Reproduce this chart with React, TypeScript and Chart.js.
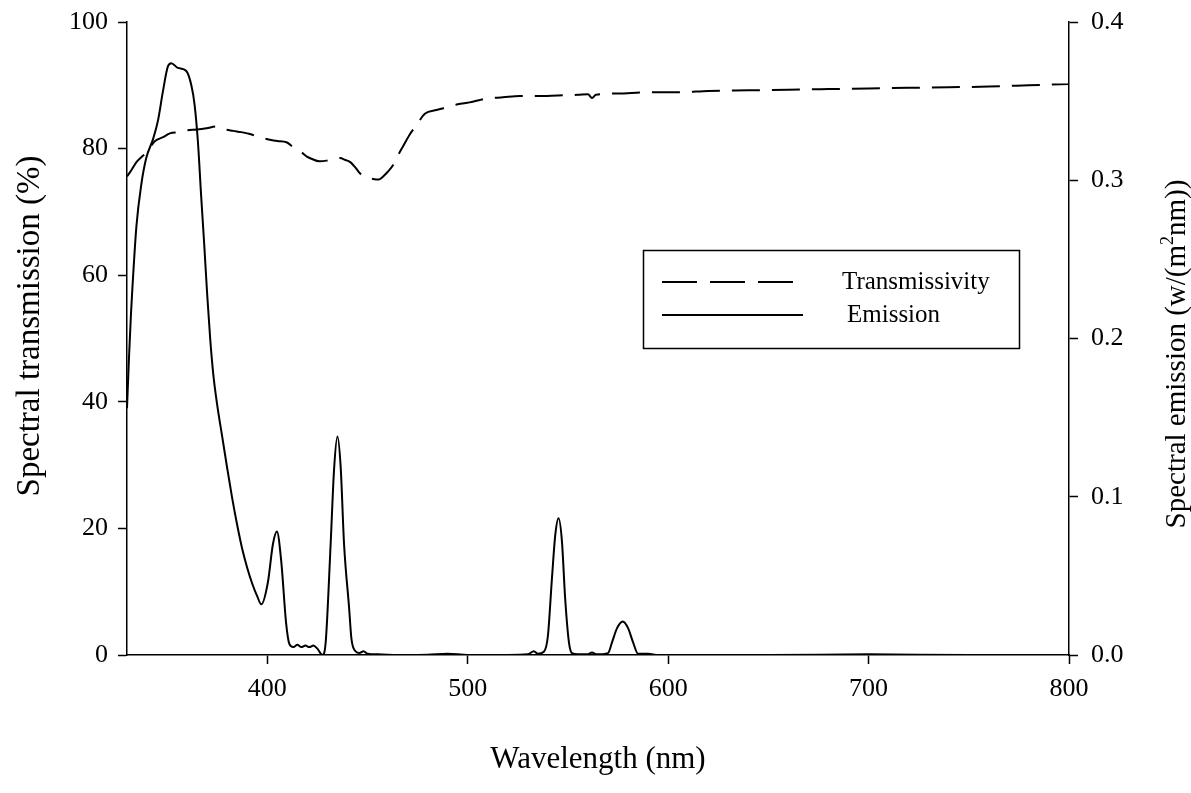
import React, { useEffect, useRef } from 'react';
import { Chart, registerables } from 'chart.js';

Chart.register(...registerables);

// ---- Data ----
const emissionNm = [
  330, 331, 332, 332.7, 334.7, 337.1, 339.6, 343, 345.5, 347.9, 350.4, 352.1, 355.4, 359.6, 362.1, 363.7,
  365.4, 367, 368.5, 370, 371.5, 373, 375, 377.5, 380, 382.5, 385, 387.5, 390, 392.5, 395, 397, 400.3, 402.8, 404.8, 406.9,
  409.4, 411, 413, 415, 417, 419, 421, 423, 425, 427.5, 429.1, 431.6, 433.3, 435, 436.6, 438.3, 440.8,
  442, 444, 446, 448, 450, 455, 460, 470, 480, 490, 500, 520, 530, 533, 535, 538, 540, 542, 543.7,
  545.3, 547, 548.6, 550.5, 552, 555, 560, 562, 564, 570, 572, 574.5, 577.4, 580, 582.5, 585, 590,
  595, 650, 700, 750, 800,
];
const emissionVal = [
  0.156, 0.188, 0.216, 0.232, 0.271, 0.297, 0.314, 0.326, 0.338, 0.356, 0.372, 0.374, 0.371, 0.369, 0.36, 0.348,
  0.324, 0.29, 0.26, 0.228, 0.2, 0.178, 0.158, 0.138, 0.118, 0.099, 0.082, 0.067, 0.055, 0.045, 0.037, 0.032, 0.046, 0.07, 0.078, 0.06,
  0.02, 0.007, 0.005, 0.0064, 0.005, 0.006, 0.005, 0.006, 0.004, 0.0, 0.0076, 0.07, 0.117, 0.138, 0.119, 0.07, 0.03,
  0.01, 0.0024, 0.0012, 0.0024, 0.0008, 0.0004, 0.0002, 0.0, 0.0002, 0.0008, 0.0, 0.0, 0.0004, 0.0024, 0.0008, 0.002, 0.012, 0.048, 0.076,
  0.0864, 0.072, 0.036, 0.008, 0.0012, 0.0004, 0.0004, 0.0016, 0.0004, 0.0012, 0.008, 0.017, 0.0212, 0.017, 0.008, 0.0008, 0.0008,
  0.0, 0.0, 0.0004, 0.0, 0.0,
];

const transNm = [
  330, 332, 334.8, 337, 339.8, 344, 348, 351.4, 356, 359.8, 365, 369.7, 374.7, 378, 383, 387, 391.3, 396,
  401.3, 405, 409.6, 413, 417.1, 420, 422, 426, 429.6, 433, 436.2, 439, 441.2, 444, 446.2, 449, 452.8,
  455.5, 457.8, 460, 462.8, 465, 467.8, 471, 474.4, 478.6, 484.4, 490.9, 495, 500.9, 505, 509.3, 517.6,
  526, 535, 545, 555, 560, 562, 564, 575, 590, 605, 620, 640, 660, 680, 700, 720, 740, 760, 780, 800,
];
const transVal = [
  75.6, 76.5, 77.9, 78.6, 79.4, 81.2, 81.8, 82.4, 82.6, 82.9, 83.0, 83.2, 83.5, 83.1, 82.8, 82.6, 82.3, 81.8,
  81.4, 81.2, 81.0, 80.2, 79.4, 78.7, 78.4, 78.0, 78.1, 78.4, 78.5, 78.2, 77.9, 77.0, 76.1, 75.5, 75.2,
  75.1, 75.6, 76.3, 77.4, 78.8, 80.4, 82.2, 83.7, 85.5, 86.1, 86.6, 87.0, 87.3, 87.6, 87.9, 88.1,
  88.3, 88.3, 88.4, 88.5, 88.6, 88.0, 88.5, 88.7, 88.9, 88.9, 89.1, 89.2, 89.3, 89.4, 89.5, 89.6, 89.7, 89.8, 90.0, 90.2,
];

const xTicks = [400, 500, 600, 700, 800];
const leftTicks = [0, 20, 40, 60, 80, 100];
const rightTicks = [0, 0.1, 0.2, 0.3, 0.4];
const seriesLabels = ['Transmissivity', 'Emission'];
const xTitle = 'Wavelength (nm)';
const leftTitle = 'Spectral transmission (%)';
const rightTitleParts = ['Spectral emission (w/(m', '2', 'nm))'];

const FONT = "'Liberation Serif', 'Times New Roman', serif";

const overlayPlugin = {
  id: 'overlay',
  afterDraw(chart: any) {
    const ctx = chart.ctx as CanvasRenderingContext2D;
    ctx.save();
    // Legend box
    ctx.strokeStyle = '#000';
    ctx.lineWidth = 1.5;
    ctx.setLineDash([]);
    ctx.strokeRect(643.5, 250.5, 376, 98);
    // Dashed sample
    ctx.lineWidth = 2;
    ctx.setLineDash([35, 13]);
    ctx.beginPath();
    ctx.moveTo(662, 282);
    ctx.lineTo(793, 282);
    ctx.stroke();
    // Solid sample
    ctx.setLineDash([]);
    ctx.beginPath();
    ctx.moveTo(662, 315);
    ctx.lineTo(803, 315);
    ctx.stroke();
    ctx.fillStyle = '#000';
    ctx.font = `25px ${FONT}`;
    ctx.textBaseline = 'middle';
    ctx.textAlign = 'left';
    ctx.fillText(chart.data.datasets[0].label, 842, 282);
    ctx.fillText(chart.data.datasets[1].label, 847, 315);

    // Left axis title (reads bottom-to-top)
    ctx.save();
    ctx.font = `33px ${FONT}`;
    ctx.textAlign = 'center';
    ctx.translate(30, 326);
    ctx.rotate(-Math.PI / 2);
    ctx.fillText(leftTitle, 0, 0);
    ctx.restore();

    // Right axis title (reads bottom-to-top, with superscript)
    const big = `29px ${FONT}`;
    const small = `18px ${FONT}`;
    ctx.textAlign = 'left';
    ctx.font = big;
    const w0 = ctx.measureText(rightTitleParts[0]).width;
    const w2 = ctx.measureText(rightTitleParts[2]).width;
    ctx.font = small;
    const w1 = ctx.measureText(rightTitleParts[1]).width;
    const total = w0 + w1 + w2;
    ctx.translate(1177, 354);
    ctx.rotate(-Math.PI / 2);
    let x = -total / 2;
    ctx.font = big;
    ctx.fillText(rightTitleParts[0], x, 0);
    x += w0;
    ctx.font = small;
    ctx.fillText(rightTitleParts[1], x, -9);
    x += w1;
    ctx.font = big;
    ctx.fillText(rightTitleParts[2], x, 0);
    ctx.restore();
  },
};

export default function App() {
  const canvasRef = useRef<HTMLCanvasElement | null>(null);

  useEffect(() => {
    if (!canvasRef.current) return;
    const emissionData = emissionNm.map((x, i) => ({ x, y: emissionVal[i] }));
    const transData = transNm.map((x, i) => ({ x, y: transVal[i] }));

    const tickFont = { family: FONT, size: 26 };
    const chart = new Chart(canvasRef.current, {
      type: 'line',
      data: {
        datasets: [
          {
            label: seriesLabels[0],
            data: transData,
            yAxisID: 'yL',
            borderColor: '#000',
            borderWidth: 2,
            borderDash: [28, 12],
            pointRadius: 0,
            cubicInterpolationMode: 'monotone',
            fill: false,
          },
          {
            label: seriesLabels[1],
            data: emissionData,
            yAxisID: 'yR',
            borderColor: '#000',
            borderWidth: 2,
            pointRadius: 0,
            cubicInterpolationMode: 'monotone',
            fill: false,
          },
        ],
      },
      options: {
        animation: false,
        responsive: true,
        maintainAspectRatio: false,
        layout: { padding: { top: 22, left: 0, right: 0, bottom: 0 } },
        plugins: {
          legend: { display: false },
          tooltip: { enabled: false },
        },
        scales: {
          x: {
            type: 'linear',
            min: 330,
            max: 800,
            afterBuildTicks: (s: any) => {
              s.ticks = xTicks.map((v) => ({ value: v }));
            },
            afterFit: (s: any) => {
              s.height = 138;
              s.paddingLeft = 0;
              s.paddingRight = 0;
            },
            grid: { drawOnChartArea: false, drawTicks: true, tickLength: 9, tickWidth: 1.5, tickColor: '#000' },
            border: { display: true, color: '#000', width: 1.5 },
            ticks: { font: tickFont, color: '#000', padding: 10, maxRotation: 0 },
            title: {
              display: true,
              text: xTitle,
              font: { family: FONT, size: 31, lineHeight: 1 },
              color: '#000',
              padding: { top: 0, bottom: 18 },
            },
          },
          yL: {
            type: 'linear',
            position: 'left',
            min: 0,
            max: 100,
            afterBuildTicks: (s: any) => {
              s.ticks = leftTicks.map((v) => ({ value: v }));
            },
            afterFit: (s: any) => {
              s.width = 127;
              s.paddingTop = 0;
              s.paddingBottom = 0;
            },
            grid: { drawOnChartArea: false, drawTicks: true, tickLength: 9, tickWidth: 1.5, tickColor: '#000' },
            border: { display: true, color: '#000', width: 1.5 },
            ticks: { font: tickFont, color: '#000', padding: 10 },
          },
          yR: {
            type: 'linear',
            position: 'right',
            min: 0,
            max: 0.4,
            afterBuildTicks: (s: any) => {
              s.ticks = rightTicks.map((v) => ({ value: v }));
            },
            afterFit: (s: any) => {
              s.width = 122;
              s.paddingTop = 0;
              s.paddingBottom = 0;
            },
            grid: { drawOnChartArea: false, drawTicks: true, tickLength: 9, tickWidth: 1.5, tickColor: '#000' },
            border: { display: true, color: '#000', width: 1.5 },
            ticks: {
              font: tickFont,
              color: '#000',
              padding: 13,
              callback: (v: any) => Number(v).toFixed(1),
            },
          },
        },
      },
      plugins: [overlayPlugin],
    } as any);

    return () => {
      chart.destroy();
    };
  }, []);

  return (
    <div style={{ position: 'absolute', left: 0, top: 0, width: 1191, height: 793, background: '#fff' }}>
      <canvas ref={canvasRef} />
    </div>
  );
}
